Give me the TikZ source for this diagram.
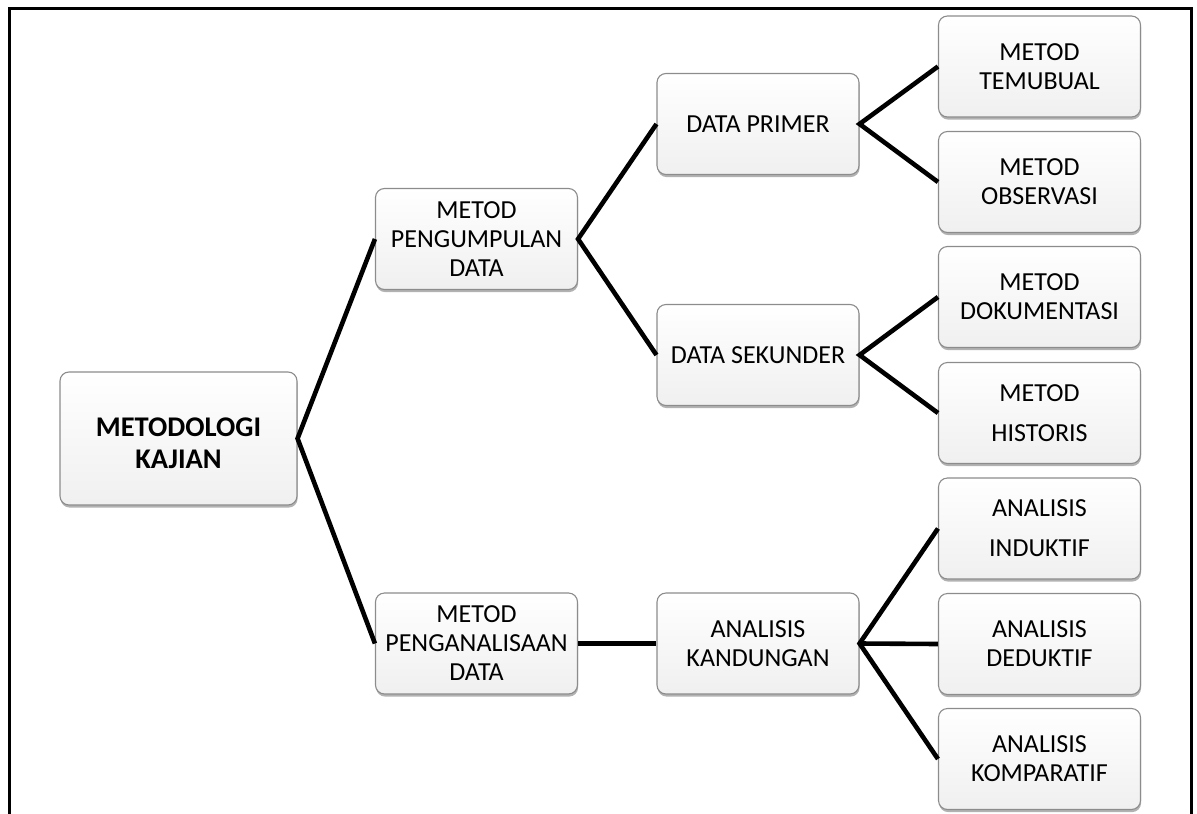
\documentclass[tikz,border=0pt]{standalone}
\usepackage{fontspec}
\setmainfont{Carlito}
\usetikzlibrary{shadows}
\begin{document}
\begin{tikzpicture}[x=1pt,y=-1pt,
  box/.style={draw=black!45, line width=1.1pt, rounded corners=9pt,
    top color=white, bottom color=black!6,
    minimum width=202pt, minimum height=101pt, inner sep=0pt, align=center,
    font=\fontsize{26}{29}\selectfont,
    drop shadow={shadow xshift=0.6pt, shadow yshift=-2.6pt, fill=black!55, opacity=0.55}},
  mainbox/.style={box, minimum width=237pt, minimum height=133pt},
  maintext/.style={inner sep=0pt, align=center,
    font=\fontsize{28.5}{32}\selectfont\bfseries},
  link/.style={line width=4.6pt, line join=miter, draw=black},
  frame/.style={line width=3pt, draw=black}]
\useasboundingbox (0,0) rectangle (1197,814);
\draw[frame] (9.5,816) -- (9.5,8.5) -- (1191.5,8.5) -- (1191.5,816);

\node[mainbox] (mk) at (178.5,438.5) {};
\node[maintext] (mkt) at (178.5,443) {METODOLOGI\\KAJIAN};
\node[box] (pd) at (476.5,239) {METOD\\PENGUMPULAN\\DATA};
\node[box] (pa) at (476.5,643.5) {METOD\\PENGANALISAAN\\DATA};
\node[box] (dp) at (758,124) {DATA PRIMER};
\node[box] (ds) at (758,355) {DATA SEKUNDER};
\node[box] (ak) at (758,643.5) {ANALISIS\\KANDUNGAN};
\node[box] (mt) at (1039.5,66.5) {METOD\\TEMUBUAL};
\node[box] (mo) at (1039.5,182) {METOD\\OBSERVASI};
\node[box] (md) at (1039.5,297) {METOD\\DOKUMENTASI};
\node[box] (mh) at (1039.5,413) {METOD\\[11pt]HISTORIS};
\node[box] (ai) at (1039.5,528.5) {ANALISIS\\[11pt]INDUKTIF};
\node[box] (ad) at (1039.5,644) {ANALISIS\\DEDUKTIF};
\node[box] (ac) at (1039.5,759) {ANALISIS\\KOMPARATIF};

\draw[link] (pd.west) -- (mk.east) -- (pa.west);
\draw[link] (dp.west) -- (pd.east) -- (ds.west);
\draw[link] (mt.west) -- (dp.east) -- (mo.west);
\draw[link] (md.west) -- (ds.east) -- (mh.west);
\draw[link] (pa.east) -- (ak.west);
\draw[link] (ai.west) -- (ak.east) -- (ac.west);
\draw[link] (ak.east) -- (ad.west);
\end{tikzpicture}
\end{document}
